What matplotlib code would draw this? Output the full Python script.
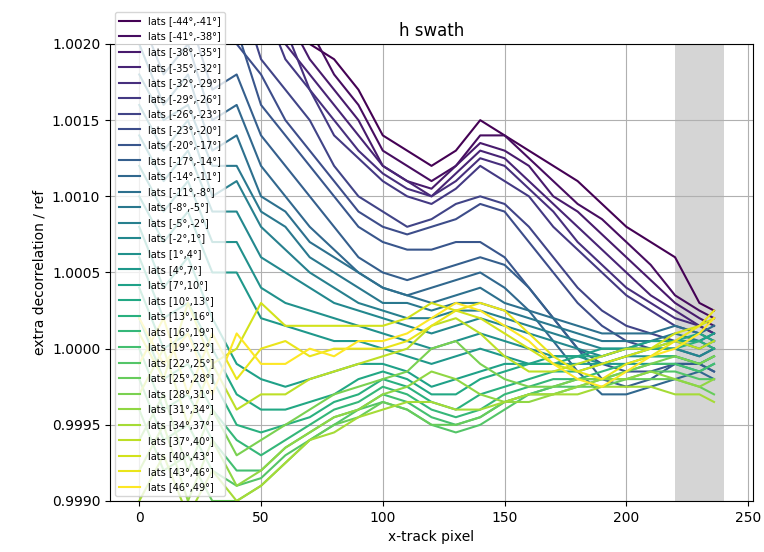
import numpy as np
import matplotlib
matplotlib.use("Agg")
import matplotlib.pyplot as plt
from matplotlib.ticker import ScalarFormatter

# x-track pixel positions
xpix = [0, 10, 20, 30, 40, 50, 60, 70, 80, 90, 100, 110, 120, 130, 140,
        150, 160, 170, 180, 190, 200, 210, 220, 230, 236]

# latitude band starts (bands are 3 degrees wide)
lat_starts = list(range(-44, 47, 3))

# extra decorrelation / ref, stored as (ratio - 1) in units of 1e-4
dev = [
    [34, 30, 33, 27, 29, 25, 23, 20, 19, 17, 14, 13, 12, 13, 15, 14, 13, 12, 11, 9.5, 8, 7, 6, 3, 2.5],
    [31, 35, 28, 30, 26, 26, 22, 21, 18, 16, 13, 12, 11, 12, 14, 14, 12.5, 11, 9.5, 8.5, 7, 5.5, 3.5, 2.5, 2],
    [33, 29, 31, 26, 28, 23, 22, 19, 17, 15, 12, 11, 10.5, 12, 13.5, 13, 12, 10, 9, 7.5, 6, 4.5, 3, 2, 1.5],
    [30, 32, 27, 29, 25, 24, 20, 18, 16, 14, 12, 11, 10, 11.5, 13, 12.5, 11, 9.5, 8, 6.5, 5, 3.5, 2.5, 1.5, 1],
    [32, 28, 30, 25, 27, 22, 21, 17, 15, 13, 11.5, 10.5, 10, 11, 12.5, 12, 10.5, 9, 7, 5.5, 4, 3, 2, 1.5, 1],
    [29, 31, 26, 28, 24, 23, 19, 17, 14, 12.5, 11, 10, 9.5, 10.5, 12, 11, 10, 8, 6.5, 5, 3.5, 2.5, 1.5, 1, 0.5],
    [28, 25, 27, 22, 24, 19, 17, 15, 12, 10, 9, 8, 8.5, 9.5, 10, 9.5, 8, 6, 4, 2.5, 1.5, 1, 0.5, 0.5, 0],
    [26, 28, 23, 25, 20, 18, 15, 13, 11, 9, 8, 7.5, 8, 8.5, 9.5, 9, 7, 5, 3, 1.5, 0.5, 0, 0, -0.5, 0],
    [27, 23, 25, 20, 21, 16, 14, 12, 10, 8, 7, 6.5, 6.5, 7, 7, 6, 4, 2, 0, -1, -1.5, -1.5, -1, -1, -1.5],
    [24, 20, 22, 17, 18, 14, 12, 10, 8, 6, 5, 4.5, 5, 5.5, 6, 5.5, 4, 2, 0, -2, -2.5, -2, -1, -1, -1.5],
    [22, 18, 20, 15, 16, 12, 10, 8, 6.5, 5, 4, 3.5, 4, 4.5, 5, 4, 2.5, 0.5, -1.5, -3, -3, -2.5, -2, -1.5, -2],
    [20, 16, 18, 13, 14, 10, 9, 7, 6, 5, 4, 3.5, 3, 3.5, 4, 3, 2.5, 2, 1.5, 1, 1, 1, 1.5, 1, 1.5],
    [18, 15, 16, 12, 12, 9, 8, 6, 5, 4, 3, 3, 2.5, 3, 3, 2.5, 2, 1.5, 1, 0.5, 0.5, 0.5, 1, 0.5, 1],
    [16, 13, 15, 10, 11, 8, 6.5, 5, 4, 3, 2.5, 2, 2, 2.5, 2.5, 2, 1.5, 1, 0.5, 0, 0, 0.5, 0.5, 0, 0.5],
    [14, 11, 13, 9, 9, 6, 5, 4, 3, 2.5, 2, 1.5, 1, 1.5, 2, 1.5, 1, 0.5, 0, -0.5, 0, 0, 0, -0.5, 0],
    [12, 9, 11, 7, 7, 4, 3, 2.5, 2, 1.5, 1, 0.5, 0, 0.5, 1, 0.5, 0, -0.5, -0.5, -1, -0.5, -0.5, -0.5, -1, -0.5],
    [10, 7, 9, 5, 5, 2, 1.5, 1, 0.5, 0.5, 0, -0.5, -1, -0.5, 0, -0.5, -1, -1, -1, -1, -1, -1, -1, -1.5, -1],
    [8, 4, 6, 2, -1, -2, -2.5, -2, -1.5, -1, -1, -1.5, -2.5, -2, -1.5, -1, -1, -0.5, -0.5, 0, 0, 0.5, 0.5, 0.5, 1],
    [6, 2, 3, 0, -3, -4, -4, -3.5, -3, -2, -1.5, -2, -3, -3, -2, -1.5, -1, -1, -0.5, -0.5, 0, 0, 0.5, 1, 0.5],
    [4, 0, 1, -2, -5, -5.5, -5, -4.5, -3.5, -3, -2, -2.5, -3.5, -4, -3, -2.5, -2, -1.5, -1.5, -1, -0.5, 0, 0, 0.5, 0],
    [2, -2, -1, -4, -6, -7, -6, -5, -4, -3.5, -2.5, -3, -4, -4.5, -4, -3, -2.5, -2, -2, -1.5, -1, -0.5, -0.5, -1, -0.5],
    [0, -4, -3, -6, -8, -8, -6.5, -5.5, -4.5, -4, -3, -3.5, -4.5, -5, -4.5, -3.5, -3, -2.5, -2, -2, -1.5, -1, -1, -1.5, -1],
    [-2, -6, -5, -8, -9, -8.5, -7, -6, -5, -4, -3.5, -4, -5, -5.5, -5, -4, -3, -2.5, -2.5, -2, -2, -1.5, -1.5, -2, -2],
    [-4, -8, -7, -10, -10, -9, -7.5, -6, -5, -4.5, -3.5, -4, -5, -5, -4.5, -3.5, -3, -3, -2.5, -2.5, -2, -2, -2, -2.5, -3],
    [-6, -3, -8, -4, -7, -6, -5, -4, -3, -2.5, -2, -1.5, 0, 0.5, -1, -2, -2.5, -2.5, -2, -2, -1.5, -1, -0.5, -1, -0.5],
    [-8, -5, -10, -6, -9, -8, -6.5, -5.5, -4.5, -4, -3, -2.5, -1.5, -2, -3, -3.5, -3.5, -3, -2.5, -2, -2, -1.5, -2, -2.5, -2],
    [-10, -7, -11, -8, -10, -9, -7.5, -6, -5.5, -4.5, -4, -3.5, -3.5, -4, -4, -3.5, -3, -3, -3, -2.5, -2.5, -2.5, -3, -3, -3.5],
    [-3, 0, -5, -1, -4, -3, -3, -2, -1.5, -1, -0.5, 0, 1.5, 2, 1, -0.5, -1.5, -1.5, -1, -0.5, 0, 0, 0.5, 0, 0.5],
    [1, -2, 3, -1, 0, 3, 1.5, 1.5, 1.5, 1.5, 1.5, 2, 3, 2.5, 2, 1, 0, -1, -1.5, -1, -0.5, 0, 1, 1.5, 2],
    [-1, 2, -3, 1, -2, 0, 0.5, -0.5, 0, 0, 0, 0.5, 1.5, 2.5, 3, 2.5, 1, -0.5, -1.5, -2, -1, -0.5, 0.5, 1.5, 2.5],
    [2, -1, 1, -3, 1, -1, -1, 0, -0.5, 0.5, 0.5, 1, 2, 3, 2.5, 1.5, 0.5, -1, -2, -2.5, -1.5, -0.5, 0, 1, 2],
]

# %%
fig = plt.figure(figsize=(7.64, 5.52), dpi=100)
ax = fig.add_axes([0.144, 0.0924, 0.8416, 0.8279])

colors = plt.cm.viridis(np.linspace(0, 1, len(lat_starts)))
for lat, d, c in zip(lat_starts, dev, colors):
    ratio = 1 + np.array(d) * 1e-4
    ax.plot(xpix, ratio, color=c, lw=1.5,
            label='lats [%d°,%d°]' % (lat, lat + 3))

ax.axvspan(220, 240, color='gray', alpha=0.33, lw=0)
ax.set_ylim(0.999, 1.002)
ax.yaxis.set_major_formatter(ScalarFormatter(useOffset=False))
ax.grid(True)
ax.set_title('h swath')
ax.set_xlabel('x-track pixel')
ax.set_ylabel('extra decorrelation / ref')
ax.legend(loc='lower left', fontsize=7, labelspacing=0.57, handlelength=2.2)

fig.savefig('out.png', dpi=100)
